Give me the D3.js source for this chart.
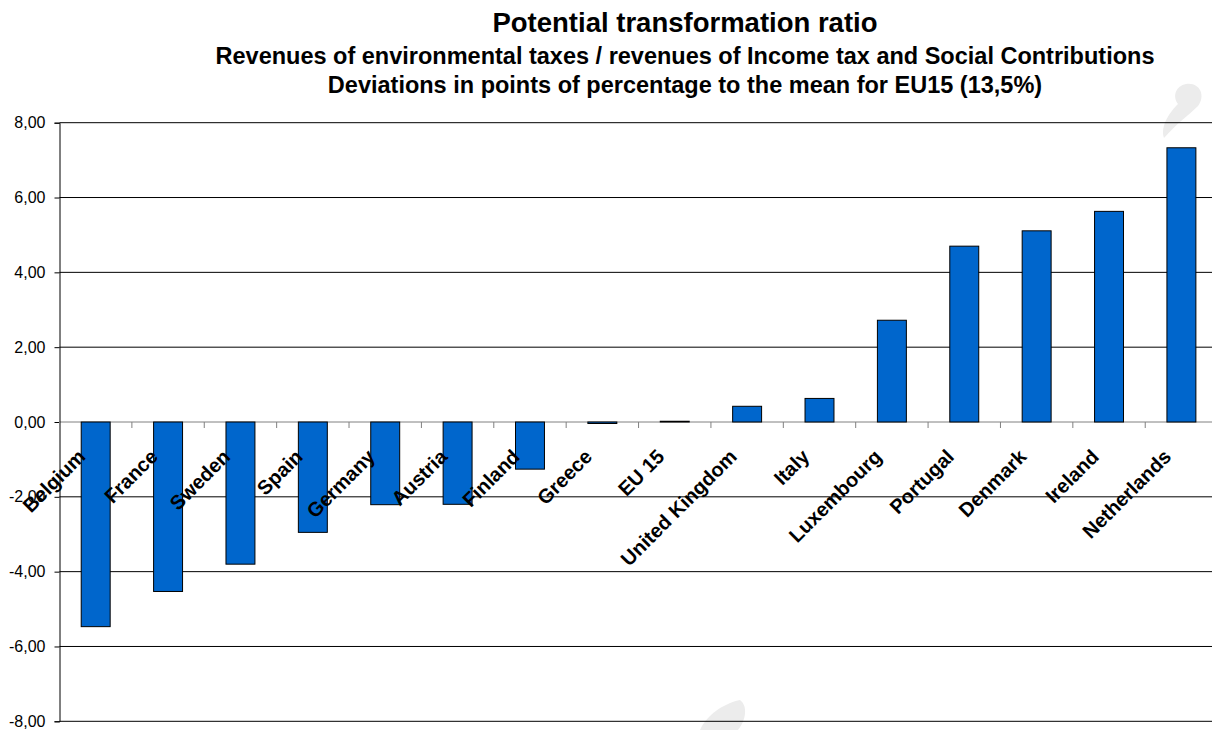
<!DOCTYPE html>
<html lang="en">

<head>
  <meta charset="UTF-8">
  <title>Potential transformation ratio</title>
  <script src="https://d3js.org/d3.v7.min.js"></script>
  <style>
    body { margin: 0; background: #fff; }
    svg { display: block; font-family: Arial, "Liberation Sans", sans-serif; }
  </style>
</head>

<body>
  <div id="chart"></div>
  <script>
    // data
    const countries = ["Belgium", "France", "Sweden", "Spain", "Germany", "Austria", "Finland", "Greece",
      "EU 15", "United Kingdom", "Italy", "Luxembourg", "Portugal", "Denmark", "Ireland", "Netherlands"];
    const deviations = [-5.47, -4.53, -3.80, -2.95, -2.21, -2.20, -1.26, -0.04,
      0.02, 0.42, 0.63, 2.72, 4.70, 5.11, 5.63, 7.33];
    const yTicks = [-8, -6, -4, -2, 0, 2, 4, 6, 8];
    const titles = [
      "Potential transformation ratio",
      "Revenues of environmental taxes / revenues of Income tax and Social Contributions",
      "Deviations in points of percentage to the mean for EU15 (13,5%)"
    ];

    function drawChart() {
      const width = 1212;
      const height = 730;
      const svg = d3.select("#chart")
        .append("svg")
        .attr("width", width)
        .attr("height", height);

      const left = 59.5, right = 1217.6;

      const x = d3.scaleBand()
        .domain(countries)
        .range([left, right])
        .paddingInner(0.6)
        .paddingOuter(0.3);

      const y = d3.scaleLinear()
        .domain([-8, 8])
        .range([721.3, 122.7]);

      // watermark (light grey)
      svg.append("path")
        .attr("d", "M1186,84 C1200,82 1206,96 1198,106 C1190,114 1176,124 1164,138 C1160,126 1170,112 1178,104 C1172,96 1176,86 1186,84 Z")
        .attr("fill", "#ececec");
      svg.append("path")
        .attr("d", "M700,730 C706,716 722,704 740,700 C748,706 746,720 738,730 Z")
        .attr("fill", "#ececec");

      // titles
      const tSizes = [27.5, 23.5, 23.5];
      const tY = [32, 64, 93];
      svg.selectAll("text.title")
        .data(titles)
        .join("text")
        .attr("class", "title")
        .attr("x", 685)
        .attr("y", (d, i) => tY[i])
        .attr("text-anchor", "middle")
        .attr("font-weight", "bold")
        .attr("font-size", (d, i) => tSizes[i])
        .text(d => d);

      // gridlines
      svg.selectAll("line.grid")
        .data(yTicks)
        .join("line")
        .attr("class", "grid")
        .attr("x1", left)
        .attr("x2", right)
        .attr("y1", d => y(d))
        .attr("y2", d => y(d))
        .attr("stroke", d => d === 0 ? "#808080" : "#000")
        .attr("stroke-width", 1);

      // y axis
      const yAxis = svg.append("g")
        .attr("transform", `translate(${left},0)`)
        .call(d3.axisLeft(y).tickValues(yTicks).tickSize(5).tickPadding(9)
          .tickFormat(d => d3.format(".2f")(d).replace(".", ",").replace("−", "-")));
      yAxis.select(".domain").attr("stroke", "#000");
      yAxis.selectAll(".tick line").attr("stroke", "#000");
      yAxis.selectAll(".tick text")
        .attr("font-size", 16)
        .attr("font-family", "Arial, 'Liberation Sans', sans-serif")
        .attr("fill", "#000");

      // category ticks along the zero line
      svg.selectAll("line.ctick")
        .data(d3.range(countries.length + 1))
        .join("line")
        .attr("class", "ctick")
        .attr("x1", i => left + i * x.step())
        .attr("x2", i => left + i * x.step())
        .attr("y1", y(0))
        .attr("y2", y(0) + 6)
        .attr("stroke", "#808080");

      // bars
      svg.selectAll("rect.bar")
        .data(countries)
        .join("rect")
        .attr("class", "bar")
        .attr("x", d => x(d))
        .attr("width", x.bandwidth())
        .attr("y", (d, i) => y(Math.max(0, deviations[i])))
        .attr("height", (d, i) => Math.abs(y(deviations[i]) - y(0)))
        .attr("fill", "#0066cc")
        .attr("stroke", "#000")
        .attr("stroke-width", 1);

      // category labels
      svg.selectAll("text.cat")
        .data(countries)
        .join("text")
        .attr("class", "cat")
        .attr("transform", d => `translate(${x(d) + x.bandwidth() / 2 - 9},458) rotate(-45)`)
        .attr("text-anchor", "end")
        .attr("font-weight", "bold")
        .attr("font-size", 20)
        .text(d => d);
    }

    drawChart();
  </script>
</body>

</html>
